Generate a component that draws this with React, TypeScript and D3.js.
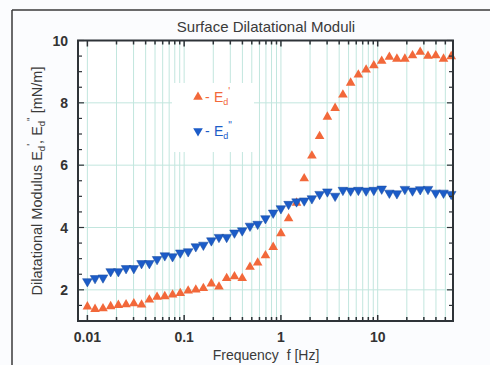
import * as d3 from "d3";

// Frequencies (Hz)
const freqs = [
  0.01, 0.012, 0.0145, 0.0174, 0.0209, 0.0251, 0.0302, 0.0363, 0.0437, 0.0525,
  0.0631, 0.0759, 0.0912, 0.11, 0.132, 0.158, 0.191, 0.229, 0.275, 0.331,
  0.398, 0.479, 0.575, 0.692, 0.832, 1.0, 1.2, 1.45, 1.74, 2.09,
  2.51, 3.02, 3.63, 4.37, 5.25, 6.31, 7.59, 9.12, 11.0, 13.2,
  15.8, 19.1, 22.9, 27.5, 33.1, 39.8, 47.9, 57.5,
];

// E_d' (storage) in mN/m
const storage = [
  1.46, 1.38, 1.4, 1.47, 1.51, 1.53, 1.56, 1.52, 1.68, 1.77,
  1.79, 1.84, 1.89, 1.97, 2.0, 2.05, 2.2, 2.1, 2.37, 2.43,
  2.37, 2.73, 2.87, 3.1, 3.37, 3.81, 4.29, 4.79, 5.57, 6.3,
  6.93, 7.55, 7.83, 8.26, 8.64, 8.9, 9.06, 9.2, 9.34, 9.47,
  9.41, 9.41, 9.52, 9.63, 9.5, 9.52, 9.41, 9.49,
];

// E_d'' (loss) in mN/m
const loss = [
  2.27, 2.37, 2.39, 2.59, 2.59, 2.69, 2.69, 2.85, 2.85, 2.98,
  3.1, 3.07, 3.19, 3.23, 3.39, 3.44, 3.58, 3.69, 3.69, 3.83,
  3.9, 4.05, 4.11, 4.29, 4.47, 4.61, 4.75, 4.83, 4.86, 4.93,
  5.07, 5.15, 5.01, 5.2, 5.18, 5.2, 5.18, 5.2, 5.24, 5.11,
  5.09, 5.23, 5.18, 5.22, 5.23, 5.11, 5.11, 5.07,
];

const xTickVals = [0.01, 0.1, 1, 10];
const xTickLabels = ["0.01", "0.1", "1", "10"];
const yTickVals = [2, 4, 6, 8, 10];

const W = 490;
const H = 365;
const m = { left: 78, right: 453, top: 40.5, bottom: 321 };
const font = "'Liberation Sans', Arial, Helvetica, sans-serif";
const ORANGE = "#f2683a";
const BLUE = "#1c5cc8";
const GRID = "#c2e6de";
const AXIS = "#2e3338";

export default function App() {
  const x = d3.scaleLog().domain([0.008, 60]).range([m.left, m.right]);
  const y = d3.scaleLinear().domain([1, 10]).range([m.bottom, m.top]);

  const gridX = x.ticks().filter((t) => t >= 0.01);
  const minorY = d3.range(1, 10.01, 0.5);
  const tri = d3.symbol(d3.symbolTriangle, 40)() ?? "";

  // legend box that hides the grid behind it
  const leg = { x: 172, y: 83, w: 82, h: 69 };

  return (
    <svg
      width={W}
      height={H}
      viewBox={`0 0 ${W} ${H}`}
      style={{ position: "absolute", left: 0, top: 0, background: "#fbfcfe" }}
    >
      {/* outer figure frame */}
      <line x1={12} y1={10} x2={W} y2={10} stroke="#3a3a3a" strokeWidth={1.5} />
      <line x1={12} y1={10} x2={12} y2={H} stroke="#3a3a3a" strokeWidth={1.5} />

      <rect x={m.left} y={m.top} width={m.right - m.left} height={m.bottom - m.top} fill="#ffffff" />

      {/* grid */}
      {gridX.map((t, i) => (
        <line key={"gx" + i} x1={x(t)} x2={x(t)} y1={m.top} y2={m.bottom} stroke={GRID} strokeWidth={1} />
      ))}
      {[2, 4, 6, 8].map((t) => (
        <line key={"gy" + t} x1={m.left} x2={m.right} y1={y(t)} y2={y(t)} stroke={GRID} strokeWidth={1} />
      ))}

      {/* legend */}
      <rect x={leg.x} y={leg.y} width={leg.w} height={leg.h} fill="#ffffff" />
      <g fontFamily={font} fontSize={14}>
        <path d={tri} transform="translate(198,97)" fill={ORANGE} />
        <text x={205} y={102} fill={ORANGE}>-</text>
        <text x={214} y={102} fill={ORANGE}>
          E<tspan fontSize={9} dy={3}>d</tspan>
          <tspan fontSize={10} dy={-10}>'</tspan>
        </text>
        <path d={tri} transform="translate(198,131) rotate(180)" fill={BLUE} />
        <text x={205} y={136} fill={BLUE}>-</text>
        <text x={214} y={136} fill={BLUE}>
          E<tspan fontSize={9} dy={3}>d</tspan>
          <tspan fontSize={10} dy={-10}>"</tspan>
        </text>
      </g>

      {/* data */}
      {freqs.map((f, i) => (
        <path key={"s" + i} d={tri} transform={`translate(${x(f)},${y(storage[i])})`} fill={ORANGE} />
      ))}
      {freqs.map((f, i) => (
        <path
          key={"l" + i}
          d={tri}
          transform={`translate(${x(f)},${y(loss[i])}) rotate(180)`}
          fill={BLUE}
          stroke="#174a9e"
          strokeWidth={0.5}
        />
      ))}

      {/* ticks */}
      {gridX.map((t, i) => {
        const major = xTickVals.includes(t);
        const len = major ? 6 : 4;
        return (
          <g key={"tx" + i} stroke={AXIS} strokeWidth={1.5}>
            <line x1={x(t)} x2={x(t)} y1={m.bottom} y2={m.bottom - len} />
            <line x1={x(t)} x2={x(t)} y1={m.top} y2={m.top + len} />
          </g>
        );
      })}
      {minorY.map((t, i) => {
        const major = yTickVals.includes(t);
        const len = major ? 6 : 4;
        return (
          <g key={"ty" + i} stroke={AXIS} strokeWidth={1.2}>
            <line x1={m.left} x2={m.left + len} y1={y(t)} y2={y(t)} />
            <line x1={m.right} x2={m.right - len} y1={y(t)} y2={y(t)} />
          </g>
        );
      })}

      {/* plot frame */}
      <rect
        x={m.left}
        y={m.top}
        width={m.right - m.left}
        height={m.bottom - m.top}
        fill="none"
        stroke={AXIS}
        strokeWidth={2}
      />

      {/* tick labels */}
      <g fontFamily={font} fontSize={14} fill="#333" fontWeight={600}>
        {xTickVals.map((t, i) => (
          <text key={"xl" + i} x={x(t)} y={342} textAnchor="middle">
            {xTickLabels[i]}
          </text>
        ))}
        {yTickVals.map((t) => (
          <text key={"yl" + t} x={68} y={y(t) + 5} textAnchor="end">
            {t}
          </text>
        ))}
      </g>

      {/* titles */}
      <g fontFamily={font} fill="#3a3a3a" fontSize={15}>
        <text x={266} y={32} textAnchor="middle">Surface Dilatational Moduli</text>
        <text x={266} y={360} textAnchor="middle" fontSize={14} xmlSpace="preserve">
          Frequency  f [Hz]
        </text>
        <text transform="translate(42,181) rotate(-90)" textAnchor="middle" fontSize={14.5}>
          Dilatational Modulus E<tspan fontSize={9.5} dy={3}>d</tspan>
          <tspan fontSize={10} dy={-10}>'</tspan>
          <tspan dy={7}>, E</tspan>
          <tspan fontSize={9.5} dy={3}>d</tspan>
          <tspan fontSize={10} dy={-10}>"</tspan>
          <tspan dy={7}> [mN/m]</tspan>
        </text>
      </g>
    </svg>
  );
}
